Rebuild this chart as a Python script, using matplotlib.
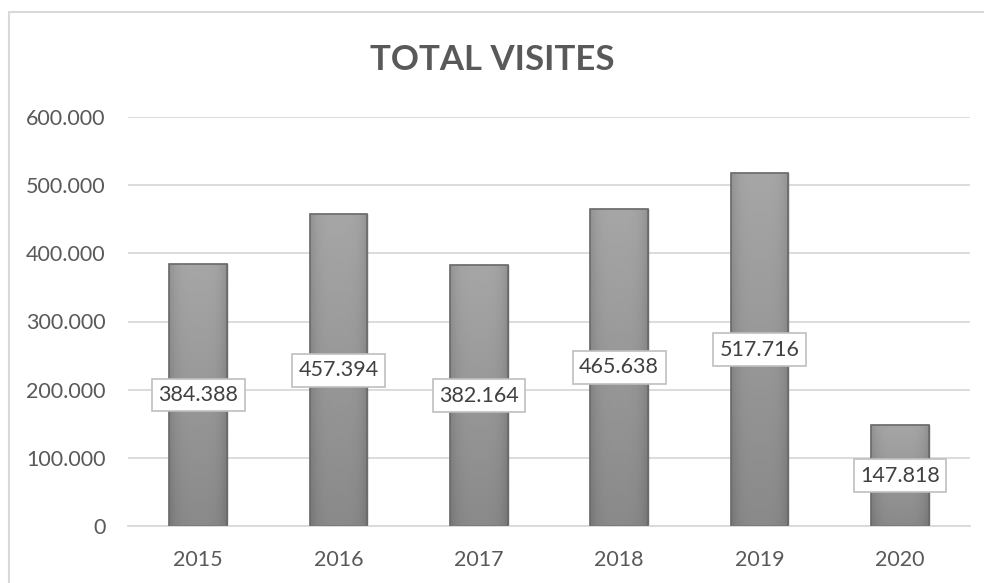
import numpy as np
import matplotlib
matplotlib.use("Agg")
import matplotlib.pyplot as plt
from matplotlib.patches import Rectangle
from matplotlib.ticker import FuncFormatter

annees = ["2015", "2016", "2017", "2018", "2019", "2020"]
visites = [384388, 457394, 382164, 465638, 517716, 147818]
titre = "TOTAL VISITES"

plt.rcParams['font.family'] = ['Lato', 'DejaVu Sans']


def format_milliers(v, pos=None):
    return "{:,.0f}".format(v).replace(",", ".")


fig = plt.figure(figsize=(9.84, 5.83), dpi=100)
fig.patch.set_facecolor("white")

# cadre du graphique
cadre = Rectangle((9 / 984, -0.05), 1.05, 1 - 12 / 583 + 0.05, transform=fig.transFigure,
                  fill=False, edgecolor="#d9d9d9", linewidth=1.5, clip_on=False)
fig.patches.append(cadre)

ax = fig.add_axes([128 / 984, 1 - 526 / 583, (970 - 128) / 984, (526 - 117) / 583])
x = np.arange(len(annees))
barres = ax.bar(x, visites, width=0.41, color="#909090", edgecolor="#6e6e6e", linewidth=1, zorder=2)

# degrade gris sur chaque barre
gy = np.linspace(0, 1, 50)[:, None]
gx = np.linspace(-1, 1, 50)[None, :]
degrade = 0.54 + 0.11 * gy - 0.08 * np.abs(gx) ** 4
for b in barres:
    x0, w, h = b.get_x(), b.get_width(), b.get_height()
    im = ax.imshow(degrade, cmap="gray", vmin=0, vmax=1, origin="lower",
                   extent=[x0, x0 + w, 0, h], aspect="auto", zorder=2.5)
    im.set_clip_path(b)
    ax.add_patch(Rectangle((x0, 0), w, h, fill=False, edgecolor="#6a6a6a", linewidth=1.2, zorder=2.6))

for i, v in enumerate(visites):
    ax.text(i, v / 2, format_milliers(v), ha="center", va="center", fontsize=15.5, color="#404040",
            zorder=4, bbox=dict(boxstyle="square,pad=0.3", facecolor="white", edgecolor="#bfbfbf", linewidth=1.2))

ax.set_xlim(-0.5, len(annees) - 0.5)
ax.set_ylim(0, 600000)
ax.set_yticks(np.arange(0, 600001, 100000))
ax.yaxis.set_major_formatter(FuncFormatter(format_milliers))
ax.set_xticks(x)
ax.set_xticklabels(annees)
ax.grid(axis="y", color="#d9d9d9", linewidth=1.3, zorder=0)
ax.set_axisbelow(True)
for s in ["top", "right", "left"]:
    ax.spines[s].set_visible(False)
ax.spines["bottom"].set_color("#d9d9d9")
ax.spines["bottom"].set_linewidth(1.3)
ax.tick_params(axis="both", length=0, labelsize=15.5, labelcolor="#595959")
ax.tick_params(axis="y", pad=16)
ax.tick_params(axis="x", pad=17)

fig.text(0.5, 1 - 60 / 583, titre, ha="center", va="center", fontsize=25, fontweight="bold", color="#595959")

fig.savefig("out.png", dpi=100)
